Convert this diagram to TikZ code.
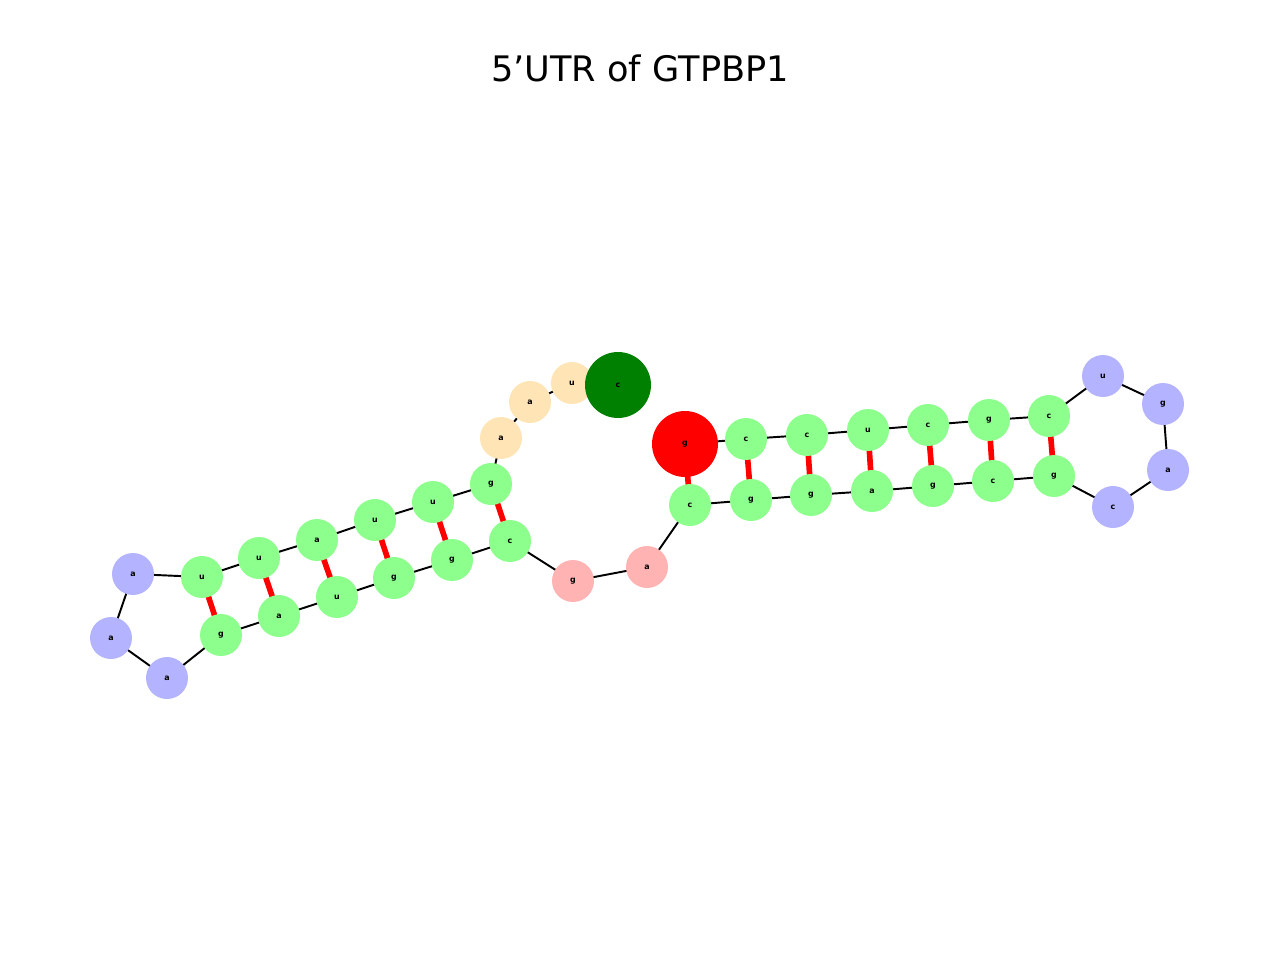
\documentclass[tikz,border=0pt]{standalone}
\usepackage{fontspec}
\setmainfont{DejaVu Sans}
\usetikzlibrary{backgrounds}
\definecolor{stem}{HTML}{8CFF8C}
\definecolor{hair}{HTML}{B3B3FF}
\definecolor{fivep}{HTML}{FFE4B5}
\definecolor{loopc}{HTML}{FFB3B3}
\definecolor{startc}{HTML}{008000}
\tikzset{
  base/.style={circle, inner sep=0pt, minimum size=0.84cm, font=\fontsize{4.5}{5}\selectfont\bfseries},
  big/.style={minimum size=1.32cm},
  bb/.style={black, line width=1.1pt},
  bp/.style={red, line width=3.2pt}
}
\begin{document}
\begin{tikzpicture}[x=0.02cm, y=-0.02cm]
%      \draw [help lines] (0,0) grid (1280,960);
      \useasboundingbox (0,0) rectangle (1280,960);
      \node [font=\fontsize{20}{24}\selectfont] (title) at (640,68) {5'UTR of GTPBP1};

      \foreach \n/\x/\y/\l/\c in {
        1/618/385/c/startc, 2/572/383/u/fivep, 3/530/402/a/fivep, 4/501/438/a/fivep,
        5/491/484/g/stem, 6/433/502/u/stem, 7/375/520/u/stem, 8/317/540/a/stem,
        9/259/558/u/stem, 10/202/577/u/stem, 11/133/574/a/hair, 12/111/638/a/hair,
        13/167/678/a/hair, 14/221/635/g/stem, 15/279/616/a/stem, 16/337/597/u/stem,
        17/394/578/g/stem, 18/452/560/g/stem, 19/510/541/c/stem, 20/573/581/g/loopc,
        21/647/567/a/loopc, 22/690/505/c/stem, 23/751/500/g/stem, 24/811/495/g/stem,
        25/872/491/a/stem, 26/933/486/g/stem, 27/993/481/c/stem, 28/1054/476/g/stem,
        29/1113/507/c/hair, 30/1168/470/a/hair, 31/1163/404/g/hair, 32/1103/376/u/hair,
        33/1049/416/c/stem, 34/989/420/g/stem, 35/928/425/c/stem, 36/868/430/u/stem,
        37/807/435/c/stem, 38/746/439/c/stem, 39/685/444/g/red}
        \node [base, fill=\c] (n\n) at (\x,\y) {\l};
      \node [base, big, fill=startc] at (n1) {c};
      \node [base, big, fill=red] at (n39) {g};

      \begin{scope}[on background layer]
        \foreach \i [evaluate=\i as \j using int(\i+1)] in {1,...,38}
          \draw [bb] (n\i.center) -- (n\j.center);
        \foreach \a/\b in {10/14, 9/15, 8/16, 7/17, 6/18, 5/19,
                           39/22, 38/23, 37/24, 36/25, 35/26, 34/27, 33/28}
          \draw [bp] (n\a.center) -- (n\b.center);
      \end{scope}
\end{tikzpicture}
\end{document}
